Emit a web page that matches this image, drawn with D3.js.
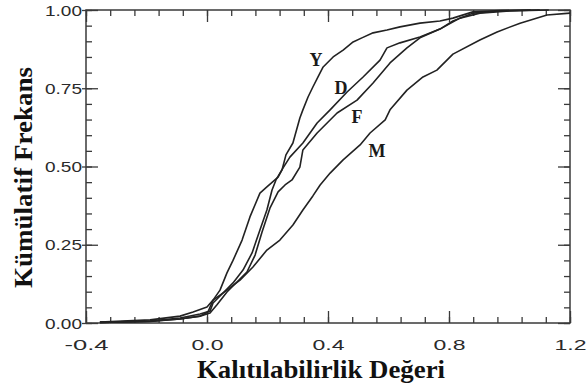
<!DOCTYPE html>
<html>
<head>
<meta charset="utf-8">
<script src="https://cdn.jsdelivr.net/npm/d3@7"></script>
<style>
  body { margin: 0; background: #fff; }
  svg { display: block; }
</style>
</head>
<body>
<svg id="chart" width="587" height="391"></svg>
<script>
// tick values and labels
var xMajor = [-0.4, 0.0, 0.4, 0.8, 1.2];
var xMajorLabels = ['-0.4', '0.0', '0.4', '0.8', '1.2'];
var yMajor = [0, 0.25, 0.5, 0.75, 1];
var yMajorLabels = ['0.00', '0.25', '0.50', '0.75', '1.00'];

// cumulative curves (x = heritability, f = cumulative freq)
var curveYx = [-0.354, -0.188, -0.089, -0.046, 0.0, 0.020, 0.043, 0.066, 0.086, 0.116, 0.142, 0.175, 0.198, 0.235, 0.248, 0.261, 0.284, 0.307, 0.317, 0.334, 0.350, 0.367, 0.384, 0.417, 0.450, 0.483, 0.512, 0.549, 0.595, 0.638, 0.704, 0.770, 0.813, 0.879, 0.969, 1.07];
var curveYf = [0.003, 0.010, 0.022, 0.035, 0.051, 0.073, 0.105, 0.160, 0.200, 0.265, 0.339, 0.415, 0.435, 0.466, 0.489, 0.537, 0.575, 0.655, 0.681, 0.722, 0.754, 0.786, 0.818, 0.850, 0.872, 0.898, 0.911, 0.927, 0.936, 0.946, 0.958, 0.965, 0.974, 0.994, 0.998, 1.0];

var curveDx = [-0.354, -0.188, -0.089, -0.023, 0.010, 0.020, 0.053, 0.086, 0.119, 0.149, 0.175, 0.198, 0.215, 0.228, 0.251, 0.274, 0.317, 0.364, 0.407, 0.463, 0.516, 0.572, 0.595, 0.638, 0.704, 0.770, 0.813, 0.879, 0.969, 1.10];
var curveDf = [0.002, 0.006, 0.016, 0.029, 0.038, 0.064, 0.096, 0.128, 0.169, 0.224, 0.297, 0.361, 0.425, 0.457, 0.495, 0.530, 0.575, 0.639, 0.681, 0.738, 0.786, 0.840, 0.879, 0.895, 0.914, 0.939, 0.965, 0.990, 0.997, 1.0];

var curveFx = [-0.354, -0.188, -0.089, -0.023, 0.010, 0.033, 0.066, 0.099, 0.132, 0.159, 0.182, 0.208, 0.235, 0.258, 0.281, 0.307, 0.317, 0.364, 0.430, 0.496, 0.549, 0.605, 0.661, 0.704, 0.770, 0.836, 0.902, 1.00, 1.13];
var curveFf = [0.002, 0.005, 0.013, 0.022, 0.032, 0.058, 0.099, 0.131, 0.163, 0.217, 0.291, 0.367, 0.419, 0.441, 0.457, 0.498, 0.553, 0.607, 0.671, 0.712, 0.767, 0.831, 0.879, 0.911, 0.939, 0.974, 0.990, 0.997, 1.0];

var curveMx = [-0.354, -0.188, -0.089, -0.023, 0.003, 0.020, 0.066, 0.109, 0.152, 0.198, 0.241, 0.284, 0.317, 0.350, 0.374, 0.407, 0.450, 0.506, 0.539, 0.589, 0.605, 0.661, 0.714, 0.760, 0.813, 0.902, 0.959, 1.035, 1.124, 1.2];
var curveMf = [0.002, 0.006, 0.013, 0.022, 0.035, 0.073, 0.105, 0.137, 0.179, 0.233, 0.265, 0.313, 0.361, 0.406, 0.441, 0.479, 0.521, 0.569, 0.607, 0.649, 0.681, 0.744, 0.786, 0.808, 0.859, 0.904, 0.930, 0.958, 0.984, 0.990];

var curveNames = ['Y', 'D', 'F', 'M'];
var curveLabelX = [0.36, 0.443, 0.496, 0.562];
var curveLabelF = [0.821, 0.732, 0.639, 0.530];

var plotL = 86, plotR = 570, plotT = 10, plotB = 323;

var svg = d3.select('#chart');

var x = d3.scaleLinear().domain([-0.4, 1.2]).range([plotL, plotR]);
var y = d3.scaleLinear().domain([0, 1]).range([plotB, plotT]);

var xMinor = d3.range(-0.4, 1.2001, 0.08);
var yMinor = d3.range(0, 1.0001, 0.05);

var axisColor = '#3a3a3a';

function styleAxis(g) {
  g.select('.domain').remove();
  g.selectAll('.tick line').attr('stroke', axisColor).attr('stroke-width', 1.3);
}

// minor ticks on all four sides
svg.append('g').attr('transform', 'translate(0,' + plotB + ')')
  .call(d3.axisBottom(x).tickValues(xMinor).tickSize(-6).tickFormat(''))
  .call(styleAxis);
svg.append('g').attr('transform', 'translate(0,' + plotT + ')')
  .call(d3.axisTop(x).tickValues(xMinor).tickSize(-6).tickFormat(''))
  .call(styleAxis);
svg.append('g').attr('transform', 'translate(' + plotL + ',0)')
  .call(d3.axisLeft(y).tickValues(yMinor).tickSize(-6).tickFormat(''))
  .call(styleAxis);
svg.append('g').attr('transform', 'translate(' + plotR + ',0)')
  .call(d3.axisRight(y).tickValues(yMinor).tickSize(-6).tickFormat(''))
  .call(styleAxis);

// major ticks
var xAxis = svg.append('g').attr('transform', 'translate(0,' + plotB + ')')
  .call(d3.axisBottom(x).tickValues(xMajor).tickSize(-12).tickPadding(17)
    .tickFormat(function(d, i) { return xMajorLabels[i]; }))
  .call(styleAxis);
svg.append('g').attr('transform', 'translate(0,' + plotT + ')')
  .call(d3.axisTop(x).tickValues(xMajor).tickSize(-12).tickFormat(''))
  .call(styleAxis);
var yAxis = svg.append('g').attr('transform', 'translate(' + plotL + ',0)')
  .call(d3.axisLeft(y).tickValues(yMajor).tickSize(-12).tickPadding(4)
    .tickFormat(function(d, i) { return yMajorLabels[i]; }))
  .call(styleAxis);
svg.append('g').attr('transform', 'translate(' + plotR + ',0)')
  .call(d3.axisRight(y).tickValues(yMajor).tickSize(-12).tickFormat(''))
  .call(styleAxis);

// a little outward stub on the left major ticks
yAxis.selectAll('.tick').append('line')
  .attr('x1', -4).attr('x2', 0)
  .attr('stroke', axisColor).attr('stroke-width', 1.3);

xAxis.selectAll('.tick text')
  .attr('font-family', '"Liberation Sans", Arial, sans-serif')
  .attr('font-size', 14)
  .attr('fill', '#2a2a2a')
  .attr('dy', 0)
  .attr('y', 27)
  .attr('textLength', function(d, i) { return xMajorLabels[i].length > 3 ? 44 : 32; })
  .attr('lengthAdjust', 'spacingAndGlyphs');

yAxis.selectAll('.tick text')
  .attr('font-family', '"Liberation Sans", Arial, sans-serif')
  .attr('font-size', 14)
  .attr('fill', '#2a2a2a')
  .attr('x', -4)
  .attr('dy', '0.36em')
  .attr('textLength', 37)
  .attr('lengthAdjust', 'spacingAndGlyphs');

// frame
svg.append('rect')
  .attr('x', plotL).attr('y', plotT)
  .attr('width', plotR - plotL).attr('height', plotB - plotT)
  .attr('fill', 'none').attr('stroke', axisColor).attr('stroke-width', 1.5);

// curves
var line = d3.line().x(function(d) { return x(d[0]); }).y(function(d) { return y(d[1]); });
var curves = [[curveYx, curveYf], [curveDx, curveDf], [curveFx, curveFf], [curveMx, curveMf]];

curves.forEach(function(c) {
  var pts = d3.zip(c[0], c[1]);
  svg.append('path')
    .attr('d', line(pts))
    .attr('fill', 'none')
    .attr('stroke', '#222')
    .attr('stroke-width', 1.6)
    .attr('stroke-linejoin', 'round');
});

// curve letters
curveNames.forEach(function(n, i) {
  svg.append('text')
    .attr('x', x(curveLabelX[i]))
    .attr('y', y(curveLabelF[i]))
    .attr('text-anchor', 'middle')
    .attr('font-family', '"Liberation Serif", "Times New Roman", serif')
    .attr('font-weight', 'bold')
    .attr('font-size', 18)
    .attr('fill', '#1a1a1a')
    .text(n);
});

// axis titles
svg.append('text')
  .attr('x', 197).attr('y', 378)
  .attr('font-family', '"Liberation Serif", "Times New Roman", serif')
  .attr('font-weight', 'bold')
  .attr('font-size', 25)
  .attr('fill', '#111')
  .attr('textLength', 248)
  .attr('lengthAdjust', 'spacingAndGlyphs')
  .text('Kalıtılabilirlik Değeri');

svg.append('text')
  .attr('transform', 'translate(32,288) rotate(-90)')
  .attr('font-family', '"Liberation Serif", "Times New Roman", serif')
  .attr('font-weight', 'bold')
  .attr('font-size', 25)
  .attr('fill', '#111')
  .attr('textLength', 221)
  .attr('lengthAdjust', 'spacingAndGlyphs')
  .text('Kümülatif Frekans');
</script>
</body>
</html>
